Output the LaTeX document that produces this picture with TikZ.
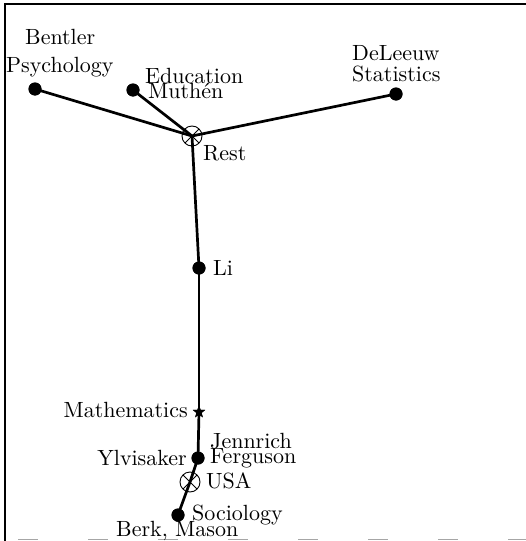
\documentclass[tikz,border=0pt]{standalone}
\usepackage{fontspec}
\setmainfont{lmroman10-regular.otf}
\usetikzlibrary{shapes.geometric}
\begin{document}
\begin{tikzpicture}[x=1pt,y=-1pt,
  dot/.style={circle,fill=black,inner sep=0pt,minimum size=13pt},
  starnode/.style={star,star points=5,star point ratio=2.4,fill=black,inner sep=0pt,minimum size=13pt},
  otimes/.style={circle,draw=black,line width=0.9pt,inner sep=0pt,minimum size=20pt,
    path picture={\draw[line width=0.9pt] (path picture bounding box.north west)--(path picture bounding box.south east)
      (path picture bounding box.north east)--(path picture bounding box.south west);}},
  lbl/.style={inner sep=0pt,font=\fontsize{22}{26}\selectfont},
  edge/.style={line width=2.7pt,black}]
\useasboundingbox (0,0) rectangle (526,541);
% frame
\draw[line width=2.6pt] (5,541) -- (5,4) -- (526,4);
\draw[line width=1pt,gray!70,dash pattern=on 20pt off 50pt] (18,539) -- (526,539);
% nodes
\node[dot] (psy) at (35,89) {};
\node[dot] (edu) at (133,90) {};
\node[otimes] (rest) at (192,136) {};
\node[dot] (stat) at (396,94) {};
\node[dot] (li) at (199,268) {};
\node[starnode] (math) at (199,412) {};
\node[dot] (yl) at (198,458) {};
\node[otimes] (usa) at (190,482) {};
\node[dot] (soc) at (178,515) {};
% connectors
\draw[edge] (psy.center) -- (rest.center);
\draw[edge] (edu.center) -- (rest.center);
\draw[edge] (stat.center) -- (rest.center);
\draw[edge] (rest.center) -- (li.center);
\draw[edge] (li.center) -- (math.center);
\draw[edge] (math.center) -- (yl.center);
\draw[edge] (yl.center) -- (usa.center);
\draw[edge] (usa.center) -- (soc.center);
% labels
\node[lbl,anchor=base west] (tBentler) at (25,44) {Bentler};
\node[lbl,anchor=base west] (tPsy) at (6,72) {Psychology};
\node[lbl,anchor=base west] (tEdu) at (145,83) {Education};
\node[lbl,anchor=base west] (tMuth) at (148,98) {Muth\'en};
\node[lbl,anchor=base west] (tRest) at (203,160) {Rest};
\node[lbl,anchor=base west] (tDeL) at (352,60) {DeLeeuw};
\node[lbl,anchor=base west] (tStat) at (352,81) {Statistics};
\node[lbl,anchor=base west] (tLi) at (213,275) {Li};
\node[lbl,anchor=base east] (tMath) at (188,417) {Mathematics};
\node[lbl,anchor=base east] (tYl) at (187,465) {Ylvisaker};
\node[lbl,anchor=base west] (tJen) at (210,448) {Jennrich};
\node[lbl,anchor=base west] (tFer) at (210,463) {Ferguson};
\node[lbl,anchor=base west] (tUSA) at (206,488) {USA};
\node[lbl,anchor=base west] (tSoc) at (192,520) {Sociology};
\node[lbl,anchor=base west] (tBerk) at (116,536) {Berk, Mason};
% redraw markers on top of lines
\node[dot] at (psy) {};
\node[dot] at (edu) {};
\node[dot] at (stat) {};
\node[dot] at (li) {};
\node[starnode] at (math) {};
\node[dot] at (yl) {};
\node[dot] at (soc) {};
\end{tikzpicture}
\end{document}
